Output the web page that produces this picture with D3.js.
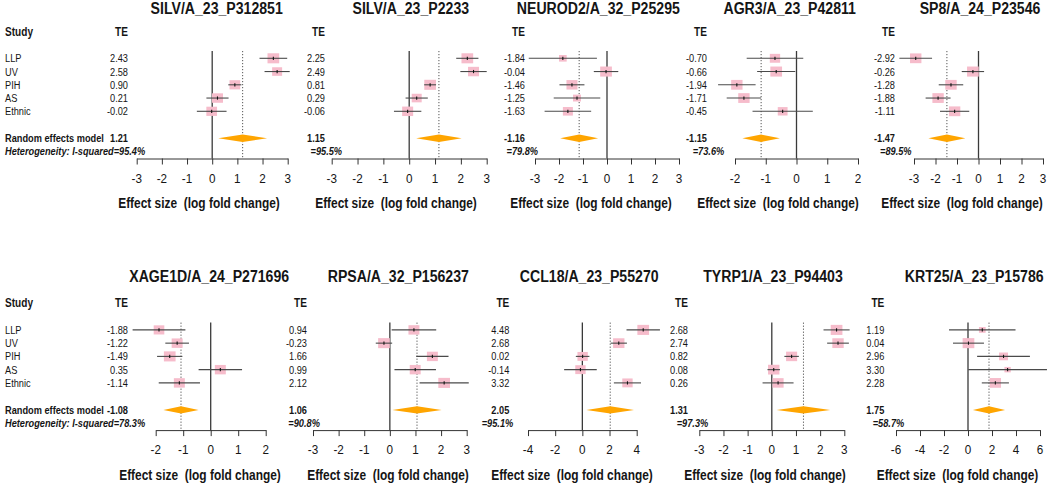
<!DOCTYPE html>
<html><head><meta charset="utf-8">
<script src="https://cdn.jsdelivr.net/npm/d3@7"></script>
<style>
body{margin:0;background:#fff}
svg{display:block}
text{font-family:"Liberation Sans",Arial,Helvetica,sans-serif;fill:#151515;white-space:pre}
</style>
</head><body>
<svg id="chart" width="1050" height="486"></svg>
<script>
// ---------------- DATA ----------------
const genes = ["SILV/A_23_P312851","SILV/A_23_P2233","NEUROD2/A_32_P25295","AGR3/A_23_P42811","SP8/A_24_P23546",
               "XAGE1D/A_24_P271696","RPSA/A_32_P156237","CCL18/A_23_P55270","TYRP1/A_23_P94403","KRT25/A_23_P15786"];
const studies = ["LLP","UV","PIH","AS","Ethnic"];
const teValues = [
  [2.43, 2.58, 0.90, 0.21, -0.02],
  [2.25, 2.49, 0.81, 0.29, -0.06],
  [-1.84, -0.04, -1.46, -1.25, -1.63],
  [-0.70, -0.66, -1.94, -1.71, -0.45],
  [-2.92, -0.26, -1.28, -1.88, -1.11],
  [-1.88, -1.22, -1.49, 0.35, -1.14],
  [0.94, -0.23, 1.66, 0.99, 2.12],
  [4.48, 2.68, 0.02, -0.14, 3.32],
  [2.68, 2.74, 0.82, 0.08, 0.26],
  [1.19, 0.04, 2.96, 3.30, 2.28]
];
const ciLower = [
  [1.88, 2.08, 0.64, -0.23, -0.61],
  [1.82, 1.98, 0.58, -0.14, -0.59],
  [-3.26, -0.55, -1.98, -2.22, -2.60],
  [-1.62, -1.28, -2.55, -2.27, -1.43],
  [-3.68, -0.78, -1.85, -2.46, -1.79],
  [-2.84, -1.65, -1.95, -0.44, -1.89],
  [0.07, -0.55, 1.03, 0.18, 1.16],
  [3.25, 2.08, -0.48, -1.34, 2.32],
  [2.14, 2.29, 0.52, -0.18, -0.38],
  [-1.58, -1.25, 0.76, 0.02, 1.15]
];
const ciUpper = [
  [2.98, 3.08, 1.16, 0.65, 0.57],
  [2.68, 3.00, 1.04, 0.72, 0.47],
  [-0.42, 0.47, -0.94, -0.28, -0.66],
  [0.22, -0.04, -1.33, -1.15, 0.53],
  [-2.16, 0.26, -0.71, -1.30, -0.43],
  [-0.92, -0.79, -1.03, 1.14, -0.39],
  [1.81, 0.09, 2.29, 1.80, 3.08],
  [5.71, 3.28, 0.52, 1.06, 4.32],
  [3.22, 3.19, 1.12, 0.34, 0.90],
  [3.96, 1.33, 5.16, 6.58, 3.41]
];
const weights = [
  [23.3, 17.0, 19.5, 20.6, 19.5],
  [22.2, 19.6, 22.2, 16.2, 19.6],
  [12.3, 28.5, 25.2, 13.3, 20.8],
  [17.9, 22.9, 21.6, 21.6, 16.1],
  [19.8, 20.9, 19.8, 19.8, 19.8],
  [18.5, 19.7, 22.4, 19.7, 19.7],
  [18.9, 21.6, 18.9, 18.9, 21.6],
  [23.3, 22.0, 18.2, 18.2, 18.2],
  [21.4, 20.2, 19.1, 20.2, 19.1],
  [10.4, 31.8, 18.8, 9.3, 29.7]
];
const summaryTE = [1.21, 1.15, -1.16, -1.15, -1.47, -1.08, 1.06, 2.05, 1.31, 1.75];
const summaryLower = [0.24, 0.27, -1.95, -1.76, -2.33, -1.72, 0.10, 0.30, 0.20, 0.41];
const summaryUpper = [2.18, 2.03, -0.37, -0.54, -0.61, -0.44, 2.02, 3.80, 2.42, 3.09];
const iSquared = [95.4, 95.5, 79.8, 73.6, 89.5, 78.3, 90.8, 95.1, 97.3, 58.7];
const axisDomains = [[-3,3],[-3,3],[-3,3],[-2,2],[-3,3],[-2,2],[-3,3],[-4,4],[-3,3],[-6,6]];
const axisTicks = [
  [-3,-2,-1,0,1,2,3],[-3,-2,-1,0,1,2,3],[-3,-2,-1,0,1,2,3],[-2,-1,0,1,2],[-3,-2,-1,0,1,2,3],
  [-2,-1,0,1,2],[-3,-2,-1,0,1,2,3],[-4,-2,0,2,4],[-3,-2,-1,0,1,2,3],[-6,-4,-2,0,2,4,6]
];
const xLabel = "Effect size  (log fold change)";
const hetPrefix = "Heterogeneity: I-squared=";

// ---------------- LAYOUT (pixel positions) ----------------
const layout = [
  {row:0, ax:[136.7,287.7], te:128,   het:null,  title:216.7, xl:199},
  {row:0, ax:[331.7,486.7], te:325,   het:310.5, title:410.8, xl:396},
  {row:0, ax:[535,679],     te:525,   het:506.5, title:598.3, xl:591},
  {row:0, ax:[735,858],     te:707,   het:692.7, title:789.7, xl:778},
  {row:0, ax:[914,1043],    te:895,   het:880,   title:980,   xl:962},
  {row:1, ax:[155.7,265.7], te:128,   het:null,  title:209.2, xl:200},
  {row:1, ax:[313,466.7],   te:307,   het:288.3, title:398.3, xl:388},
  {row:1, ax:[528,636.7],   te:509.3, het:481.7, title:589.2, xl:572},
  {row:1, ax:[699.3,844.3], te:688,   het:676.7, title:773,   xl:765},
  {row:1, ax:[896,1040],    te:884.3, het:872.7, title:974.2, xl:957.5}
];
const rowOffset = [0, 271.6];
const titleY = [14, 281.6];
const Y = {head:35.5, row0:58.3, rowStep:13.25, summ:138.3, het:151, zeroTop:51, axis:158.5, tick:6, tickLab:182.8, xlab:208};
const SX = 0.84;
const maxSq = 11.7;

const svg = d3.select("#chart");

function txt(g, x, y, s, o = {}) {
  return g.append("text")
    .attr("transform", `translate(${x},${y}) scale(${o.sx ?? SX},1)`)
    .attr("text-anchor", o.anchor || "start")
    .attr("xml:space", "preserve")
    .style("font-size", (o.size || 11) + "px")
    .style("font-weight", o.weight || "normal")
    .style("font-style", o.style || "normal")
    .text(s);
}

layout.forEach((L, p) => {
  const g = svg.append("g").attr("transform", `translate(0,${L.row ? rowOffset[1] : 0})`);
  const x = d3.scaleLinear().domain(axisDomains[p]).range(L.ax);
  const yRow = i => Y.row0 + i * Y.rowStep;
  const maxW = d3.max(weights[p]);

  svg.append("text")
    .attr("transform", `translate(${L.title},${titleY[L.row]}) scale(0.83,1)`)
    .attr("text-anchor", "middle")
    .style("font-size", "17px").style("font-weight", "bold")
    .text(genes[p]);

  if (L.het === null) {
    txt(g, 5, Y.head, "Study", {size: 12, weight: "bold"});
    studies.forEach((s, i) => txt(g, 5, yRow(i) + 4, s, {size: 11}));
    txt(g, 5, Y.summ + 4, "Random effects model", {size: 11, weight: "bold"});
    txt(g, 5, Y.het + 4, hetPrefix + iSquared[p].toFixed(1) + "%", {size: 11, weight: "bold", style: "italic"});
  } else {
    txt(g, L.het, Y.het + 4, "=" + iSquared[p].toFixed(1) + "%", {size: 11, weight: "bold", style: "italic"});
  }

  txt(g, L.te, Y.head, "TE", {size: 12, weight: "bold", anchor: "end"});
  teValues[p].forEach((v, i) => txt(g, L.te, yRow(i) + 4, v.toFixed(2), {size: 11, anchor: "end"}));
  txt(g, L.te, Y.summ + 4, summaryTE[p].toFixed(2), {size: 11, weight: "bold", anchor: "end"});

  g.append("line").attr("x1", x(0)).attr("x2", x(0)).attr("y1", Y.zeroTop).attr("y2", Y.axis)
    .attr("stroke", "#3a3a3a").attr("stroke-width", 1.3);
  g.append("line").attr("x1", x(summaryTE[p])).attr("x2", x(summaryTE[p])).attr("y1", Y.zeroTop).attr("y2", Y.axis)
    .attr("stroke", "#555").attr("stroke-width", 1).attr("stroke-dasharray", "1.2,1.8");

  teValues[p].forEach((v, i) => {
    const cy = yRow(i);
    const w = maxSq * Math.sqrt(weights[p][i] / maxW);
    const h = w * 0.86;
    g.append("rect").attr("x", x(v) - w / 2).attr("y", cy - h / 2).attr("width", w).attr("height", h)
      .attr("fill", "#f6bccb");
    g.append("line").attr("x1", x(ciLower[p][i])).attr("x2", x(ciUpper[p][i])).attr("y1", cy).attr("y2", cy)
      .attr("stroke", "#4a4a4a").attr("stroke-width", 1.1);
    g.append("line").attr("x1", x(v)).attr("x2", x(v)).attr("y1", cy - 1.6).attr("y2", cy + 1.6)
      .attr("stroke", "#111").attr("stroke-width", 1.1);
  });

  const dh = 3.7;
  g.append("path")
    .attr("d", `M${x(summaryLower[p])},${Y.summ} L${x(summaryTE[p])},${Y.summ - dh} L${x(summaryUpper[p])},${Y.summ} L${x(summaryTE[p])},${Y.summ + dh} Z`)
    .attr("fill", "#ffa500");

  const axG = g.append("g").attr("transform", `translate(0,${Y.axis})`);
  axG.call(d3.axisBottom(x).tickValues(axisTicks[p]).tickSize(Y.tick).tickSizeOuter(0).tickFormat(""));
  axG.selectAll("path,line").attr("stroke", "#333").attr("stroke-width", 1);
  axisTicks[p].forEach(t => txt(g, x(t), Y.tickLab, (t < 0 ? "-" + Math.abs(t) : String(t)), {size: 13, anchor: "middle", sx: 0.9}));

  txt(g, L.xl, Y.xlab, xLabel, {size: 14.2, weight: "bold", anchor: "middle"});
});
</script>
</body></html>
